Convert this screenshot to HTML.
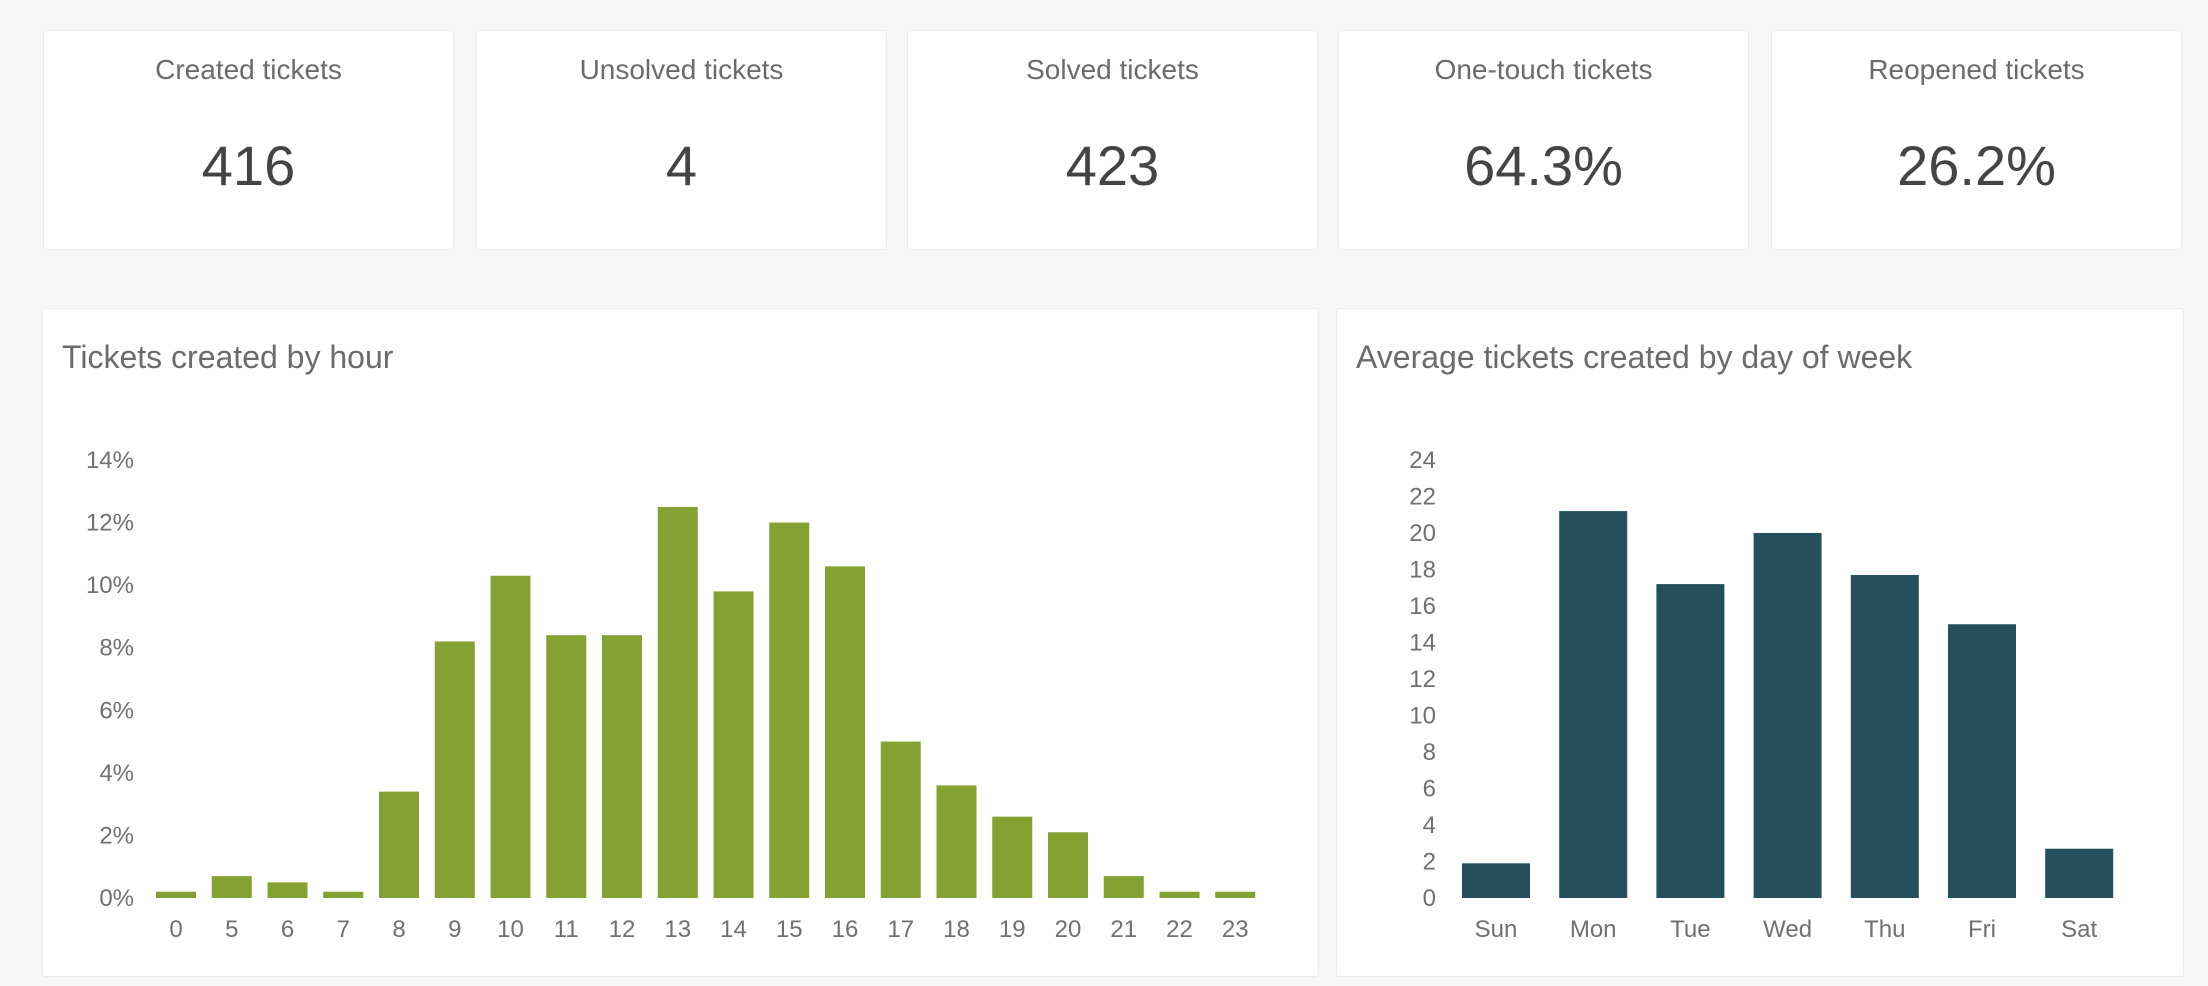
<!DOCTYPE html>
<html><head><meta charset="utf-8"><style>
body{margin:0;width:2208px;height:986px;background:#f6f6f6;font-family:"Liberation Sans",sans-serif;position:relative;overflow:hidden}
.card{position:absolute;top:30px;width:409px;height:218px;background:#fff;border:1px solid #ebebeb;border-radius:4px;text-align:center}
.card .t{position:absolute;top:23px;left:0;right:0;font-size:28px;color:#6b6b6b}
.card .v{position:absolute;top:102px;left:0;right:0;font-size:56px;color:#444}
.panel{position:absolute;top:308px;height:667px;background:#fff;border:1px solid #ebebeb;border-radius:4px}
svg{position:absolute;left:0;top:0}
</style></head><body>
<div class="card" style="left:43px"><div class="t">Created tickets</div><div class="v">416</div></div>
<div class="card" style="left:476px"><div class="t">Unsolved tickets</div><div class="v">4</div></div>
<div class="card" style="left:907px"><div class="t">Solved tickets</div><div class="v">423</div></div>
<div class="card" style="left:1338px"><div class="t">One-touch tickets</div><div class="v">64.3%</div></div>
<div class="card" style="left:1771px"><div class="t">Reopened tickets</div><div class="v">26.2%</div></div>

<div class="panel" style="left:42px;width:1275px"></div>
<div class="panel" style="left:1336px;width:846px"></div>
<svg id="chart" width="2208" height="986" font-family="Liberation Sans, sans-serif">
<text x="62" y="368" font-size="32" fill="#6b6b6b">Tickets created by hour</text>
<text x="1356" y="368" font-size="32" fill="#6b6b6b">Average tickets created by day of week</text>
</svg>
<script>
const hours=["0","5","6","7","8","9","10","11","12","13","14","15","16","17","18","19","20","21","22","23"];
const hourValues=[0.2,0.7,0.5,0.2,3.4,8.2,10.3,8.4,8.4,12.5,9.8,12.0,10.6,5.0,3.6,2.6,2.1,0.7,0.2,0.2];
const hourTicks=[0,2,4,6,8,10,12,14];
const days=["Sun","Mon","Tue","Wed","Thu","Fri","Sat"];
const dayValues=[1.9,21.2,17.2,20.0,17.7,15.0,2.7];
const dayTicks=[0,2,4,6,8,10,12,14,16,18,20,22,24];
const svg=document.getElementById('chart');
const NS='http://www.w3.org/2000/svg';
function mk(tag,attrs){const e=document.createElementNS(NS,tag);for(const k in attrs)e.setAttribute(k,attrs[k]);svg.appendChild(e);return e;}
function draw(cats,vals,ticks,max,x0,pitch,bw,color,tickX,suffix,prefix){
  const y0=898,y1=460;
  const ys=v=>y0-(v/max)*(y0-y1);
  ticks.forEach(t=>{const e=mk('text',{x:tickX,y:ys(t)+8,'font-size':24,fill:'#707070','text-anchor':'end'});e.textContent=t+suffix;
    
    });
  cats.forEach((c,i)=>{const x=x0+i*pitch;const v=vals[i];
    const r=mk('rect',{x:x,y:ys(v),width:bw,height:y0-ys(v),fill:color});
    
    
    const t=mk('text',{x:x+bw/2,y:937,'font-size':24,fill:'#707070','text-anchor':'middle'});t.textContent=c;
    
    });
}
draw(hours,hourValues,hourTicks,14,156,55.75,40,'#83a232',134,'%','hour');
draw(days,dayValues,dayTicks,24,1462,97.2,68,'#23505c',1436,'','day');
</script>
</body></html>
